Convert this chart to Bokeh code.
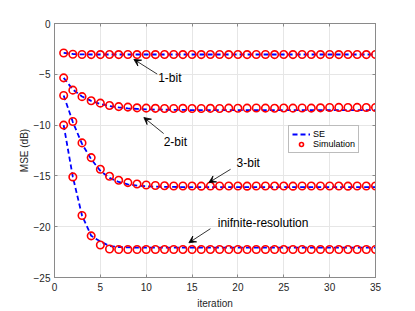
from bokeh.plotting import figure
from bokeh.models import Range1d, LinearAxis, Label, Arrow, VeeHead, Legend, LegendItem, FixedTicker
from bokeh.embed import file_html
from bokeh.resources import INLINE

# ---------------- data ----------------
iterations = list(range(1, 36))

se_1bit = [-2.90, -3.00, -3.04, -3.05, -3.05, -3.05, -3.05, -3.05, -3.05, -3.05,
           -3.05, -3.05, -3.05, -3.05, -3.05, -3.05, -3.05, -3.05, -3.05, -3.05,
           -3.05, -3.05, -3.05, -3.05, -3.05, -3.05, -3.05, -3.05, -3.05, -3.05,
           -3.05, -3.05, -3.05, -3.05, -3.05]
sim_1bit = [-2.90, -3.02, -3.05, -3.06, -3.06, -3.05, -3.06, -3.05, -3.06, -3.05,
            -3.06, -3.05, -3.05, -3.06, -3.05, -3.06, -3.05, -3.05, -3.06, -3.05,
            -3.06, -3.05, -3.05, -3.06, -3.05, -3.06, -3.05, -3.05, -3.06, -3.05,
            -3.06, -3.05, -3.05, -3.06, -3.05]

se_2bit = [-5.35, -6.50, -7.18, -7.62, -7.92, -8.12, -8.26, -8.35, -8.41, -8.45,
           -8.47, -8.49, -8.50, -8.51, -8.52, -8.52, -8.52, -8.52, -8.52, -8.52,
           -8.52, -8.52, -8.52, -8.52, -8.52, -8.52, -8.52, -8.52, -8.52, -8.52,
           -8.52, -8.52, -8.52, -8.52, -8.52]
sim_2bit = [-5.35, -6.56, -7.20, -7.60, -7.84, -8.07, -8.18, -8.23, -8.30, -8.33,
            -8.35, -8.36, -8.36, -8.35, -8.37, -8.36, -8.35, -8.36, -8.33, -8.34,
            -8.33, -8.32, -8.33, -8.34, -8.32, -8.33, -8.32, -8.33, -8.30, -8.27,
            -8.26, -8.27, -8.26, -8.27, -8.27]

se_3bit = [-7.08, -9.70, -11.85, -13.35, -14.50, -15.20, -15.60, -15.83, -15.95, -16.02,
           -16.06, -16.08, -16.09, -16.10, -16.10, -16.10, -16.10, -16.10, -16.10, -16.10,
           -16.10, -16.10, -16.10, -16.10, -16.10, -16.10, -16.10, -16.10, -16.10, -16.10,
           -16.10, -16.10, -16.10, -16.10, -16.10]
sim_3bit = [-7.08, -9.65, -11.75, -13.20, -14.35, -15.04, -15.43, -15.66, -15.80, -15.90,
            -15.95, -15.97, -16.00, -15.99, -16.00, -16.01, -16.00, -15.99, -16.00, -16.00,
            -16.01, -16.00, -15.99, -16.00, -16.00, -16.01, -16.00, -16.00, -15.99, -16.00,
            -16.00, -16.01, -16.00, -16.00, -16.00]

se_inf = [-10.00, -15.10, -18.90, -20.90, -21.45, -21.90, -22.00, -22.04, -22.05, -22.05,
          -22.05, -22.05, -22.05, -22.05, -22.05, -22.05, -22.05, -22.05, -22.05, -22.05,
          -22.05, -22.05, -22.05, -22.05, -22.05, -22.05, -22.05, -22.05, -22.05, -22.05,
          -22.05, -22.05, -22.05, -22.05, -22.05]
sim_inf = [-10.00, -15.10, -18.90, -20.90, -21.80, -22.20, -22.25, -22.24, -22.25, -22.25,
           -22.24, -22.25, -22.25, -22.24, -22.25, -22.25, -22.24, -22.25, -22.25, -22.24,
           -22.25, -22.25, -22.24, -22.25, -22.25, -22.24, -22.25, -22.25, -22.24, -22.25,
           -22.25, -22.24, -22.25, -22.25, -22.25]

x_ticks = [0, 5, 10, 15, 20, 25, 30, 35]
y_ticks = [-25, -20, -15, -10, -5, 0]

ann_text = ["1-bit", "2-bit", "3-bit", "inifnite-resolution"]

# annotation placement (data coords): text anchor, arrow tail, arrow head
ann_text_pos = [(11.3, -5.35), (11.9, -11.65), (19.85, -13.7), (17.8, -19.6)]
ann_arrows = [((11.2, -4.98), (8.65, -3.53)),
              ((11.9, -10.83), (9.74, -9.25)),
              ((19.2, -14.35), (16.83, -15.66)),
              ((17.0, -20.2), (14.65, -21.58))]

# ---------------- figure ----------------
FONT = "Liberation Sans"
AXIS_COLOR = "#8a8a8a"
TEXT_COLOR = "#262626"

p = figure(width=415, height=311, output_backend="svg", toolbar_location=None,
           x_range=Range1d(0, 35), y_range=Range1d(-25, 0),
           min_border_left=54, min_border_right=40, min_border_top=23, min_border_bottom=34)
p.background_fill_color = "white"
p.border_fill_color = "white"
p.outline_line_color = AXIS_COLOR
p.outline_line_width = 1

for ax in (p.xaxis[0], p.yaxis[0]):
    ax.axis_line_color = AXIS_COLOR
    ax.major_tick_line_color = AXIS_COLOR
    ax.major_tick_in = 3
    ax.major_tick_out = 0
    ax.minor_tick_line_color = None
    ax.major_label_text_font = FONT
    ax.major_label_text_font_size = "10px"
    ax.major_label_text_color = TEXT_COLOR
    ax.axis_label_text_font = FONT
    ax.axis_label_text_font_size = "10px"
    ax.axis_label_text_font_style = "normal"
    ax.axis_label_text_color = TEXT_COLOR

p.xaxis[0].ticker = FixedTicker(ticks=x_ticks)
p.yaxis[0].ticker = FixedTicker(ticks=y_ticks)
p.xaxis[0].axis_label = "iteration"
p.yaxis[0].axis_label = "MSE (dB)"
p.xaxis[0].major_label_standoff = 5
p.xaxis[0].axis_label_standoff = 4
p.yaxis[0].major_label_standoff = 4
p.yaxis[0].axis_label_standoff = 1

# top and right axes with inward ticks only (no labels)
top_ax = LinearAxis(ticker=FixedTicker(ticks=x_ticks),
                    major_label_overrides={t: "" for t in x_ticks})
right_ax = LinearAxis(ticker=FixedTicker(ticks=y_ticks),
                      major_label_overrides={t: "" for t in y_ticks})
for ax in (top_ax, right_ax):
    ax.axis_line_color = AXIS_COLOR
    ax.major_tick_line_color = AXIS_COLOR
    ax.major_tick_in = 3
    ax.major_tick_out = 0
    ax.minor_tick_line_color = None
    ax.major_label_text_font_size = "10px"
    ax.major_label_standoff = 0
p.add_layout(top_ax, "above")
p.add_layout(right_ax, "right")

p.xgrid.ticker = FixedTicker(ticks=x_ticks)
p.ygrid.ticker = FixedTicker(ticks=y_ticks)
p.xgrid.grid_line_color = "#e6e6e6"
p.ygrid.grid_line_color = "#e6e6e6"

# ---------------- series ----------------
se_series = [se_1bit, se_2bit, se_3bit, se_inf]
sim_series = [sim_1bit, sim_2bit, sim_3bit, sim_inf]

se_renderers = []
for ys in se_series:
    r = p.line(iterations, ys, line_color="#0000ff", line_width=1.8, line_dash="5 3")
    se_renderers.append(r)
sim_renderers = []
for ys in sim_series:
    r = p.scatter(iterations, ys, marker="circle", size=7.5, fill_color=None,
                  line_color="#ff0000", line_width=1.6)
    sim_renderers.append(r)

legend = Legend(items=[LegendItem(label="SE", renderers=[se_renderers[0]]),
                       LegendItem(label="Simulation", renderers=[sim_renderers[0]])],
                location=(234, 124))
legend.label_text_font = FONT
legend.label_text_font_size = "9px"
legend.label_text_color = "black"
legend.label_height = 10
legend.label_standoff = 3
legend.glyph_width = 18
legend.glyph_height = 10
legend.spacing = 0
legend.padding = 3
legend.margin = 0
legend.border_line_color = "#7a7a7a"
legend.border_line_width = 1
legend.background_fill_color = "white"
p.add_layout(legend, "center")

# ---------------- annotations ----------------
for txt, (tx, ty) in zip(ann_text, ann_text_pos):
    p.add_layout(Label(x=tx, y=ty, text=txt, text_font=FONT, text_font_size="12px",
                       text_color="black", text_align="left", text_baseline="middle"))
for (t0, t1) in ann_arrows:
    p.add_layout(Arrow(x_start=t0[0], y_start=t0[1], x_end=t1[0], y_end=t1[1],
                       line_color="black", line_width=0.8,
                       end=VeeHead(size=7, fill_color="black", line_color="black", line_width=0.8)))

open("out.html", "w").write(file_html(p, INLINE))
